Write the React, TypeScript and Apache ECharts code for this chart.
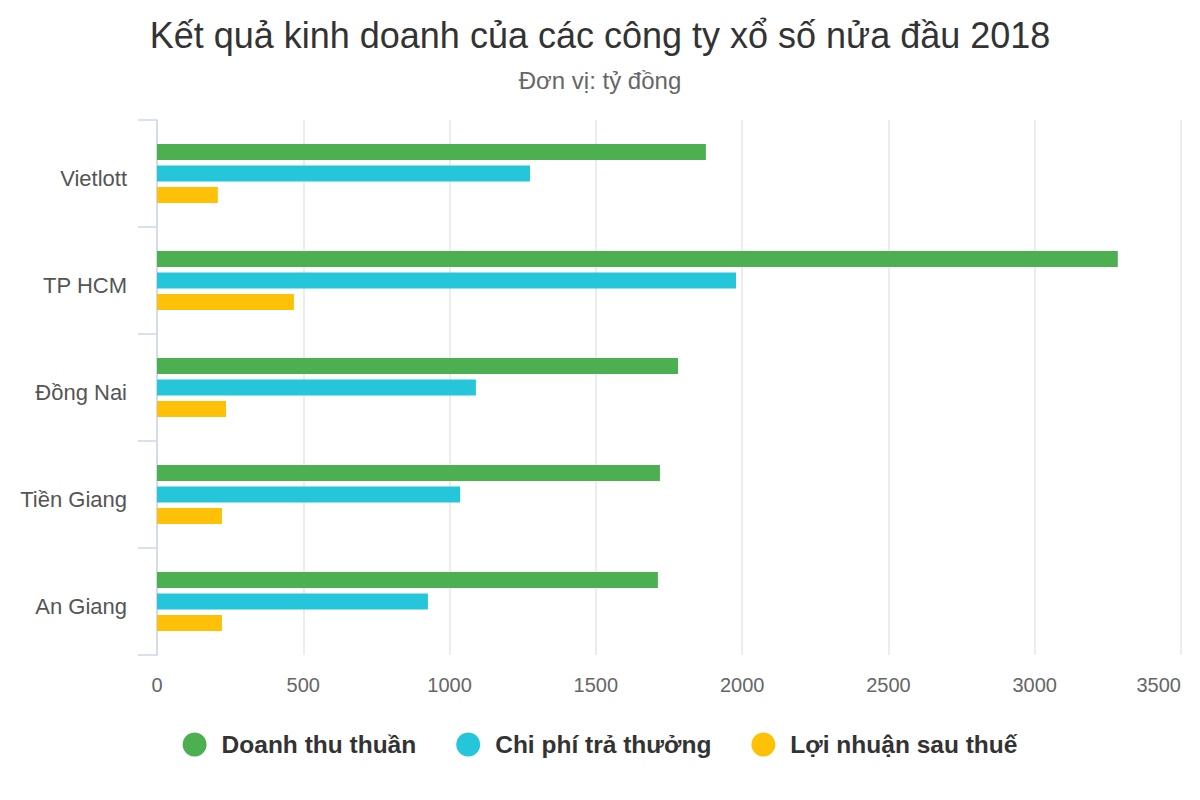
import { useEffect, useRef } from 'react'
import * as echarts from 'echarts'

const congTy = ['Vietlott', 'TP HCM', 'Đồng Nai', 'Tiền Giang', 'An Giang']
const doanhThu = [1876, 3284, 1781, 1719, 1712]
const chiPhi = [1275, 1979, 1090, 1036, 926]
const loiNhuan = [208, 468, 236, 222, 222]
const tenSeries = ['Doanh thu thuần', 'Chi phí trả thưởng', 'Lợi nhuận sau thuế']
const mauSeries = ['#4caf50', '#26c6da', '#ffc107']

export default function App() {
  const ref = useRef<HTMLDivElement>(null)

  useEffect(() => {
    if (!ref.current) return
    const chart = echarts.init(ref.current, undefined, { renderer: 'svg' })
    const giaTri = [doanhThu, chiPhi, loiNhuan]
    chart.setOption({
      animation: false,
      backgroundColor: '#fff',
      textStyle: { fontFamily: 'Liberation Sans, Arial, sans-serif' },
      title: {
        text: 'Kết quả kinh doanh của các công ty xổ số nửa đầu 2018',
        subtext: 'Đơn vị: tỷ đồng',
        left: 'center',
        top: 12,
        itemGap: 15,
        textStyle: { fontSize: 36, fontWeight: 'normal', color: '#333' },
        subtextStyle: { fontSize: 24, color: '#666' },
      },
      legend: {
        bottom: 38,
        left: 'center',
        icon: 'circle',
        itemWidth: 24,
        itemHeight: 24,
        itemGap: 40,
        textStyle: { fontSize: 24.5, fontWeight: 'bold', color: '#333', padding: [0, 0, 0, 10] },
      },
      grid: { left: 157, right: 19, top: 120, bottom: 145 },
      xAxis: {
        type: 'value',
        min: 0,
        max: 3500,
        interval: 500,
        axisLine: { show: false },
        axisTick: { show: false },
        axisLabel: {
          fontSize: 20,
          color: '#666',
          margin: 20,
          alignMaxLabel: 'right',
          formatter: (v: number) => String(v),
        },
        splitLine: { lineStyle: { color: '#e6e6e6', width: 1.5 } },
      },
      yAxis: {
        type: 'category',
        inverse: true,
        data: congTy,
        axisLine: { show: true, lineStyle: { color: '#ccd6eb', width: 1.5 } },
        axisTick: { show: true, length: 19, lineStyle: { color: '#ccd6eb', width: 1.5 } },
        axisLabel: { fontSize: 22, color: '#555', margin: 30, verticalAlign: 'top', lineHeight: 10 },
      },
      series: tenSeries.map((ten, i) => ({
        name: ten,
        type: 'bar',
        data: giaTri[i],
        barWidth: 16,
        barGap: '34%',
        itemStyle: { color: mauSeries[i] },
      })),
    })
    return () => chart.dispose()
  }, [])

  return (
    <div
      ref={ref}
      style={{ position: 'fixed', left: 0, top: 0, width: 1200, height: 800 }}
    />
  )
}
